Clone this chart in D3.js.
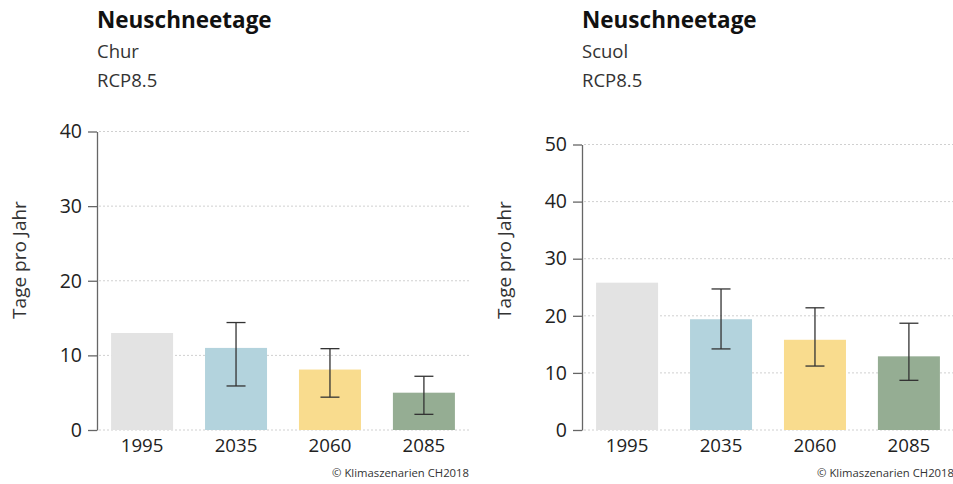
<!DOCTYPE html>
<html>
<head>
<meta charset="utf-8">
<script src="https://cdn.jsdelivr.net/npm/d3@7"></script>
<style>
  body { margin: 0; background: #fff; }
  svg text { font-family: "Open Sans", "Noto Sans", sans-serif; fill: #222; }
</style>
</head>
<body>
<svg id="chart" width="953" height="484"></svg>
<script>
var periods = ['1995', '2035', '2060', '2085'];
var barColors = ['#e3e3e3', '#b3d3dd', '#f9dc8e', '#95ad93'];

// Chur
var churValues = [13, 11, 8.1, 5];
var churLow = [null, 5.9, 4.4, 2.1];
var churHigh = [null, 14.4, 10.9, 7.2];
var churTicks = [0, 10, 20, 30, 40];

// Scuol
var scuolValues = [25.8, 19.4, 15.8, 12.9];
var scuolLow = [null, 14.2, 11.2, 8.7];
var scuolHigh = [null, 24.7, 21.4, 18.7];
var scuolTicks = [0, 10, 20, 30, 40, 50];

var svg = d3.select('#chart');

function drawPanel(left, place, values, low, high, ticks, yTop) {
  var g = svg.append('g');
  var x0 = left, x1 = left + 372;
  var yBottom = 430;

  var x = d3.scaleBand().domain(periods).range([x0, x1])
      .paddingInner(0.34).paddingOuter(0.15);
  var y = d3.scaleLinear().domain([0, d3.max(ticks)]).range([yBottom, yTop]);

  // titles
  g.append('text').attr('x', x0).attr('y', 28)
      .style('font-size', '22.5px').style('font-weight', 'bold').style('fill', '#111')
      .text('Neuschneetage');
  g.append('text').attr('x', x0).attr('y', 58)
      .style('font-size', '18.5px').style('fill', '#333').text(place);
  g.append('text').attr('x', x0).attr('y', 87)
      .style('font-size', '18.5px').style('fill', '#333').text('RCP8.5');

  // gridlines
  g.selectAll('line.grid').data(ticks).enter().append('line')
      .attr('class', 'grid')
      .attr('x1', x0 + 2).attr('x2', x1)
      .attr('y1', function(d) { return y(d); }).attr('y2', function(d) { return y(d); })
      .attr('stroke', '#d0d0d0').attr('stroke-width', 1).attr('stroke-dasharray', '2,2');

  // bars
  g.selectAll('rect').data(values).enter().append('rect')
      .attr('x', function(d, i) { return x(periods[i]); })
      .attr('width', x.bandwidth())
      .attr('y', function(d) { return y(d); })
      .attr('height', function(d) { return yBottom - y(d); })
      .attr('fill', function(d, i) { return barColors[i]; });

  // error bars
  var err = periods.map(function(p, i) { return { p: p, lo: low[i], hi: high[i] }; })
      .filter(function(d) { return d.lo !== null; });
  var eg = g.selectAll('g.err').data(err).enter().append('g')
      .attr('class', 'err')
      .attr('transform', function(d) { return 'translate(' + (x(d.p) + x.bandwidth() / 2) + ',0)'; })
      .attr('stroke', '#333').attr('stroke-width', 1.3);
  eg.append('line').attr('x1', 0).attr('x2', 0)
      .attr('y1', function(d) { return y(d.lo); }).attr('y2', function(d) { return y(d.hi); });
  eg.append('line').attr('x1', -9.5).attr('x2', 9.5)
      .attr('y1', function(d) { return y(d.lo); }).attr('y2', function(d) { return y(d.lo); });
  eg.append('line').attr('x1', -9.5).attr('x2', 9.5)
      .attr('y1', function(d) { return y(d.hi); }).attr('y2', function(d) { return y(d.hi); });

  // y axis
  var yAxis = g.append('g').attr('transform', 'translate(' + x0 + ',0)')
      .call(d3.axisLeft(y).tickValues(ticks).tickSize(9).tickPadding(6).tickSizeOuter(0));
  yAxis.select('.domain').attr('stroke', '#666').attr('stroke-width', 1.3);
  yAxis.selectAll('.tick line').attr('stroke', '#666').attr('stroke-width', 1.3);
  yAxis.selectAll('.tick text').style('font-size', '19.5px').style('fill', '#222')
      .attr('font-family', null);

  // x axis labels
  var xAxis = g.append('g').attr('transform', 'translate(0,' + yBottom + ')')
      .call(d3.axisBottom(x).tickSize(0).tickPadding(8.5));
  xAxis.select('.domain').remove();
  xAxis.selectAll('.tick text').style('font-size', '18.7px').style('fill', '#222')
      .attr('font-family', null);

  // y label
  g.append('text')
      .attr('transform', 'translate(' + (left - 71) + ',260) rotate(-90)')
      .attr('text-anchor', 'middle')
      .style('font-size', '19px').style('fill', '#333')
      .text('Tage pro Jahr');

  // source
  g.append('text').attr('x', x1).attr('y', 477).attr('text-anchor', 'end')
      .style('font-size', '11.3px').style('fill', '#333')
      .text('\u00a9 Klimaszenarien CH2018');
}

drawPanel(97, 'Chur', churValues, churLow, churHigh, churTicks, 131.5);
drawPanel(582, 'Scuol', scuolValues, scuolLow, scuolHigh, scuolTicks, 144.5);
</script>
</body>
</html>
